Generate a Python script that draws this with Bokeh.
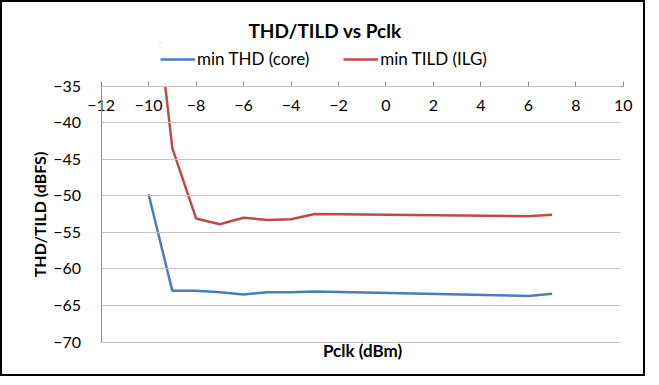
from bokeh.plotting import figure
from bokeh.models import (Legend, LegendItem, Range1d, FixedTicker, Title, LinearAxis,
                          Grid, BoxAnnotation)
from bokeh.embed import file_html
from bokeh.resources import INLINE

# ---------------- data ----------------
pclk_thd = [-10, -9, -8, -7, -6, -5, -4, -3, 6, 7]
thd_core = [-49.8, -63.0, -63.0, -63.2, -63.5, -63.2, -63.2, -63.1, -63.7, -63.4]
pclk_tild = [-10, -9, -8, -7, -6, -5, -4, -3, 6, 7]
tild_ilg = [-15.0, -43.5, -53.1, -53.9, -53.0, -53.3, -53.2, -52.5, -52.8, -52.6]
x_ticks = [-12, -10, -8, -6, -4, -2, 0, 2, 4, 6, 8, 10]
y_ticks = [-70, -65, -60, -55, -50, -45, -40, -35]
series_names = ["min THD (core)", "min TILD (ILG)"]
colors = ["#4A7EBB", "#BE4B48"]

# ---------------- layout (pixels inside the canvas) ----------------
FIG_W, FIG_H, BORDER = 645, 376, 2
CANVAS_W, CANVAS_H = FIG_W - 2 * BORDER, FIG_H - 2 * BORDER
PX_LEFT, PX_RIGHT = 98, 617      # where x axis min / max sit
PX_TOP, PX_BOT = 83, 336         # where y axis max / min sit
FRAME_TOP = 40
LEG_LEFT, LEG_BOTTOM = 158, 63

FONT = "Lato"
AXIS_C = "#8C8C8C"
GRID_C = "#C4C4C4"

x0, x1 = x_ticks[0], x_ticks[-1]
y0, y1 = y_ticks[0], y_ticks[-1]
sx = (PX_RIGHT - PX_LEFT) / (x1 - x0)
sy = (PX_BOT - PX_TOP) / (y1 - y0)
x_range = Range1d(x0 - PX_LEFT / sx, x1 + (CANVAS_W - PX_RIGHT) / sx)
y_range = Range1d(y0 - (CANVAS_H - PX_BOT) / sy, y1 + (PX_TOP - FRAME_TOP) / sy)

p = figure(width=FIG_W, height=FIG_H, output_backend="svg", toolbar_location=None,
           x_range=x_range, y_range=y_range,
           x_axis_location=None, y_axis_location=None,
           min_border_left=0, min_border_right=0,
           min_border_top=FRAME_TOP, min_border_bottom=0,
           styles={"border": f"{BORDER}px solid #000000", "box-sizing": "border-box"})
p.outline_line_color = None
p.background_fill_color = "white"
p.border_fill_color = "white"

# hide and drop any default grids (vertical lines are not in the reference)
for g in list(p.center) + list(p.renderers):
    if isinstance(g, Grid):
        g.visible = False
        g.grid_line_color = None
p.xgrid.visible = False
p.ygrid.visible = False
p.center = [r for r in p.center if not isinstance(r, Grid)]
p.renderers = [r for r in p.renderers if not isinstance(r, Grid)]

p.title = Title(text="THD/TILD vs Pclk", align="center", text_font=FONT,
                text_font_size="19px", text_font_style="bold", text_color="#000000",
                offset=2, standoff=2)

r1 = p.line(pclk_thd, thd_core, line_color=colors[0], line_width=2.5)
r2 = p.line(pclk_tild, tild_ilg, line_color=colors[1], line_width=2.5)

# plot-area clip above the top of the value axis
p.add_layout(BoxAnnotation(bottom=y1, top=y_range.end + 100, fill_color="white", fill_alpha=1.0,
                           line_color=None, level="glyph"))

legend = Legend(items=[LegendItem(label=series_names[0], renderers=[r1]),
                       LegendItem(label=series_names[1], renderers=[r2])],
                orientation="horizontal", location=(LEG_LEFT, CANVAS_H - LEG_BOTTOM),
                label_text_font=FONT, label_text_font_size="17px", label_text_color="#000000",
                glyph_width=35, glyph_height=20, label_standoff=2, spacing=34,
                border_line_color=None, background_fill_alpha=0, padding=0, margin=0)
p.add_layout(legend, "center")

# category axis: sits on the top edge of the plot area, labels under the line
xa = LinearAxis(fixed_location=y1, bounds=(x0, x1), ticker=FixedTicker(ticks=x_ticks),
                axis_line_color=AXIS_C, major_tick_line_color=AXIS_C,
                major_tick_in=5, major_tick_out=0, minor_tick_line_color=None,
                major_label_text_font=FONT, major_label_text_font_size="16px",
                major_label_text_color="#000000", major_label_standoff=14)
p.add_layout(xa, "below")

# axis title under the plot area
xt = LinearAxis(fixed_location=y0, bounds=(x0, x1), ticker=FixedTicker(ticks=[]),
                axis_line_color=None, major_tick_line_color=None, minor_tick_line_color=None,
                axis_label="Pclk (dBm)", axis_label_text_font=FONT,
                axis_label_text_font_size="17px", axis_label_text_font_style="bold",
                axis_label_text_color="#000000", axis_label_standoff=-3)
p.add_layout(xt, "below")

# value axis; its major ticks run across the plot area as the horizontal gridlines
ya = LinearAxis(fixed_location=x0, bounds=(y0, y1), ticker=FixedTicker(ticks=y_ticks),
                axis_line_color=AXIS_C,
                major_tick_out=0, major_tick_in=int(round(PX_RIGHT - PX_LEFT)),
                major_tick_line_color=GRID_C,
                minor_tick_line_color=None,
                major_label_text_font=FONT, major_label_text_font_size="16px",
                major_label_text_color="#000000", major_label_standoff=20,
                axis_label="THD/TILD (dBFS)", axis_label_text_font=FONT,
                axis_label_text_font_size="16px", axis_label_text_font_style="bold",
                axis_label_text_color="#000000", axis_label_standoff=2)
p.add_layout(ya, "left")

open("out.html", "w").write(file_html(p, INLINE))
